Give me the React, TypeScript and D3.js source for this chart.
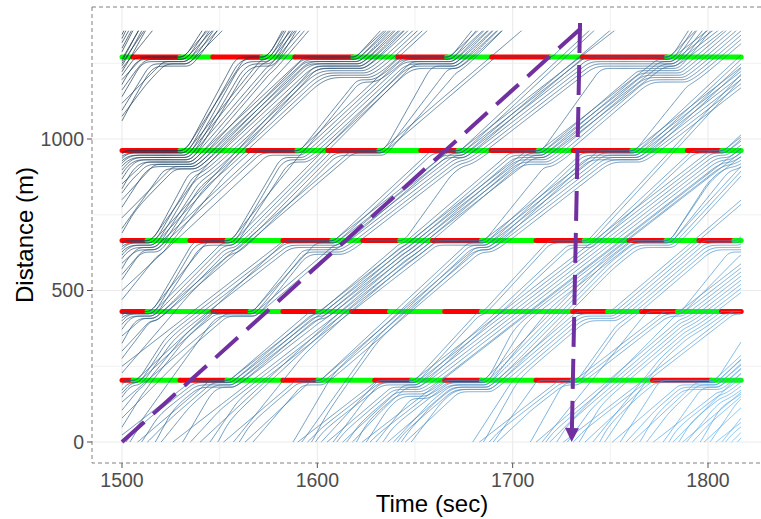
import React, { useMemo } from "react";
import * as d3 from "d3";

// Time window and corridor extent
const T_START = 1500;
const T_END = 1817;
const ROAD_END = 1357;

// Stop-line positions (m) of the five signals along the corridor
const stopLines = [204, 431, 665, 962, 1271];

// Red intervals (sec) for each signal; green fills the rest of the window
const redAt204 = [[1500, 1505.6], [1529.7, 1553.7], [1582.4, 1600.3], [1629.4, 1648.3], [1665.2, 1684], [1712, 1730.7], [1771.6, 1801.8]];
const redAt431 = [[1500, 1512.8], [1546.5, 1565.5], [1582.4, 1600.3], [1617.6, 1637], [1665.2, 1684], [1730.7, 1748.6], [1766, 1784.4], [1806.9, 1817]];
const redAt665 = [[1500, 1512.8], [1534.8, 1553.7], [1582.4, 1607.4], [1623.3, 1642.2], [1659, 1684], [1712, 1736.6], [1759.6, 1778.5], [1795.4, 1813.3]];
const redAt962 = [[1500, 1529.7], [1564.5, 1589.5], [1605.4, 1631.5], [1653, 1672], [1689, 1713], [1731, 1761], [1789.5, 1807]];
const redAt1271 = [[1505.6, 1529.7], [1546.5, 1571.6], [1588.5, 1618.2], [1641.2, 1666.2], [1689.3, 1719], [1735.7, 1778.8]];
const redPhases = [redAt204, redAt431, redAt665, redAt962, redAt1271];

// Vehicles already on the corridor at the start of the window (m) and their desired speeds (m/s)
const initialPositions = [
  1345, 1332, 1318, 1300, 1288,
  1264, 1257, 1250, 1242, 1233, 1222, 1210, 1196, 1180, 1162, 1140, 1118, 1095, 1075, 1060,
  956, 950, 943, 936, 928, 920, 910, 898, 884, 868, 852, 836, 822,
  800, 775, 740, 705, 690,
  659, 652, 645, 636, 627, 617, 605, 590, 572, 553, 536,
  500, 470,
  425, 418, 410, 400, 388, 372, 350, 326, 300, 276,
  250, 228,
  198, 190, 171, 161, 148, 132, 105, 79, 49, 23,
];
const initialSpeeds = [
  12.5, 13, 11.5, 12, 12.5,
  11, 12, 9.5, 12.5, 8, 11.5, 10, 7, 12, 9, 11, 6.5, 10.5, 8.5, 12,
  12, 10, 11.5, 8, 12.5, 9, 11, 7.5, 12, 10, 6, 11.5, 9,
  7, 10, 6.5, 9, 11,
  12, 9, 11, 7, 12.5, 8.5, 10, 6, 11.5, 7.5, 9.5,
  6, 8,
  11, 8, 12, 6.5, 10, 9, 5.5, 11.5, 7, 8.5,
  5, 7.5,
  10, 6, 11, 7, 9, 5.5, 8, 6.5, 10.5, 5,
];

// Vehicles entering at the upstream end (sec) and their desired speeds (m/s)
const entryTimes = [
  1502, 1504, 1507.7, 1510, 1513, 1517, 1520, 1526, 1531, 1535,
  1540, 1545, 1549, 1552, 1557, 1560, 1563, 1567, 1587.5, 1590,
  1592, 1595, 1597, 1599, 1602, 1605, 1608, 1610, 1613, 1615,
  1618, 1620, 1623, 1625, 1627, 1630, 1633.5, 1636, 1638.6, 1641,
  1643, 1645, 1648, 1679.5, 1683, 1685, 1688, 1690, 1692, 1709,
  1712, 1715, 1717, 1719, 1722.5, 1725.6, 1728, 1731, 1734, 1737,
  1741, 1744.5, 1747, 1751, 1755, 1758, 1761, 1765, 1768.5, 1772,
  1777, 1780, 1782, 1785, 1787, 1789, 1792, 1795.6, 1798, 1801,
  1804, 1807, 1809, 1812, 1815,
];
const entrySpeeds = [
  9, 11, 5.5, 10, 6.5, 12, 8, 5, 11, 7,
  6, 9.5, 12, 5.5, 8, 10.5, 6, 7.5, 11, 5,
  9, 6.5, 12, 10, 7, 5.5, 8.5, 11, 6, 9,
  7, 12.5, 5, 10, 6.5, 8, 9.5, 5.5, 7, 11,
  12, 6, 8.5, 10, 5, 11.5, 7.5, 9, 6, 11.5,
  5.5, 8, 12, 6.5, 10, 5, 9, 7, 11, 6,
  8, 12.5, 9.5, 5.5, 10, 7, 6, 11, 8.5, 5,
  9, 12, 6.5, 10.5, 5.5, 8, 7, 11, 6, 9.5,
  5, 8, 10, 6.5, 7.5,
];

// Axis breaks
const xMajor = [1500, 1600, 1700, 1800];
const xMinor = [1550, 1650, 1750];
const yMajor = [0, 500, 1000];
const yMinor = [250, 750, 1250];

// Progression band and the vertical drop arrow (time, distance)
const progressionLine = [[1500, 0], [1738, 1383]];
const dropLine = [[1734.5, 1383], [1730.2, 0]];

const W = 761;
const H = 519;
const PANEL = { left: 92, right: 772, top: 7, bottom: 463 };

const x = d3.scaleLinear().domain([1500, 1800]).range([122, 708]);
const y = d3.scaleLinear().domain([0, 1000]).range([442, 139]);

const FONT = "'Liberation Sans', Arial, Helvetica, sans-serif";

function isRed(signal: number, t: number) {
  return redPhases[signal].some(([a, b]) => t >= a && t < b);
}

// Gipps-type car following in two lanes, with vehicles stopping at red signals
function simulate() {
  const dt = 0.5;
  const tau = 0.8;
  const acc = 1.8;
  const dec = 3;
  const jam = 7.5;
  const maxBrake = 5;
  const steps = Math.round((T_END - T_START) / dt);
  type Veh = { start: number; pos: number; speed: number; lane: number; leader: number };
  const vehicles: Veh[] = [];
  initialPositions.forEach((p, i) => vehicles.push({ start: T_START, pos: p, speed: initialSpeeds[i], lane: 0, leader: -1 }));
  entryTimes.forEach((t, i) => vehicles.push({ start: t, pos: 0, speed: entrySpeeds[i], lane: 0, leader: -1 }));
  const last = [-1, -1];
  vehicles.forEach((v, i) => {
    v.lane = i % 2;
    v.leader = last[v.lane];
    last[v.lane] = i;
  });
  const X = vehicles.map(() => new Array(steps + 1).fill(NaN));
  const V = vehicles.map(() => new Array(steps + 1).fill(0));

  const safeSpeed = (gap: number, v: number, vLead: number) => {
    const inside = dec * dec * tau * tau + dec * (2 * gap - v * tau + (vLead * vLead) / dec);
    return inside <= 0 ? 0 : -dec * tau + Math.sqrt(inside);
  };

  // vehicles on the road start at a speed they can hold behind their leader or the next red
  vehicles.forEach((veh, i) => {
    if (veh.start > T_START) return;
    X[i][0] = veh.pos;
    let v0 = veh.speed;
    if (veh.leader >= 0) v0 = Math.min(v0, safeSpeed(X[veh.leader][0] - jam - veh.pos, 0, V[veh.leader][0]));
    const s = stopLines.findIndex((d) => veh.pos < d);
    if (s >= 0 && isRed(s, T_START)) v0 = Math.min(v0, safeSpeed(stopLines[s] - 0.5 - veh.pos, 0, 0));
    V[i][0] = Math.max(0, v0);
  });

  for (let k = 0; k < steps; k++) {
    const t1 = T_START + (k + 1) * dt;
    vehicles.forEach((veh, i) => {
      const L = veh.leader;
      const xl = L >= 0 ? X[L][k] : NaN;
      const vl = L >= 0 ? V[L][k] : 0;
      const x0 = X[i][k];
      if (isNaN(x0)) {
        if (t1 < veh.start) return;
        if (L >= 0 && (isNaN(xl) || xl - jam < 6)) return;
        const vIn = L >= 0 ? safeSpeed(xl - jam, veh.speed, vl) : veh.speed;
        X[i][k + 1] = 0;
        V[i][k + 1] = Math.max(0, Math.min(veh.speed * 0.8, vIn));
        return;
      }
      const v0 = V[i][k];
      let vn = Math.min(veh.speed, v0 + acc * dt);
      let cap = Infinity;
      if (L >= 0 && !isNaN(xl)) {
        vn = Math.min(vn, safeSpeed(xl - jam - x0, v0, vl));
        cap = xl - 0.6 * jam;
      }
      const s = stopLines.findIndex((d) => x0 < d);
      if (s >= 0 && isRed(s, t1)) {
        const gap = stopLines[s] - 0.5 - x0;
        const need = (v0 * v0) / (2 * Math.max(gap, 0.01));
        if (gap <= 0 || need <= maxBrake) {
          vn = Math.min(vn, safeSpeed(Math.max(gap, 0), v0, 0));
          cap = Math.min(cap, stopLines[s] - 0.5);
        }
      }
      vn = Math.max(0, vn);
      let xn = x0 + ((v0 + vn) / 2) * dt;
      xn = Math.max(x0, Math.min(xn, cap));
      X[i][k + 1] = xn;
      V[i][k + 1] = vn;
    });
  }
  return X.map((h) => {
    const pts: [number, number][] = [];
    h.forEach((d, k) => {
      if (!isNaN(d)) pts.push([T_START + k * dt, d]);
    });
    return pts;
  });
}

export default function App() {
  const trajectories = useMemo(() => simulate(), []);
  const n = trajectories.length;
  const colour = d3.interpolateLab("#132B43", "#56B1F7");
  const line = d3
    .line<[number, number]>()
    .x((p) => x(p[0]))
    .y((p) => y(p[1]));

  const signalSegments: { s: number; a: number; b: number; red: boolean }[] = [];
  redPhases.forEach((reds, s) => {
    let t = T_START;
    reds.forEach(([a, b]) => {
      if (a > t) signalSegments.push({ s, a: t, b: a, red: false });
      signalSegments.push({ s, a, b, red: true });
      t = b;
    });
    if (t < T_END) signalSegments.push({ s, a: t, b: T_END, red: false });
  });

  const purple = "#7030A0";
  const [p0, p1] = dropLine.map(([t, d]) => [x(t), y(d)]);
  const ang = Math.atan2(p1[1] - p0[1], p1[0] - p0[0]);
  const headLen = 14;
  const headHalf = 7;
  const base = [p1[0] - headLen * Math.cos(ang), p1[1] - headLen * Math.sin(ang)];
  const nx = -Math.sin(ang);
  const ny = Math.cos(ang);

  return (
    <svg width={W} height={H} style={{ position: "fixed", left: 0, top: 0, background: "#fff" }} fontFamily={FONT}>
      <defs>
        <clipPath id="road">
          <rect x={x(T_START) - 1} y={y(ROAD_END)} width={x(T_END) - x(T_START) + 1} height={y(-5) - y(ROAD_END)} />
        </clipPath>
      </defs>
      {/* grid */}
      {[...xMinor, ...xMajor].map((v) => (
        <line key={"gx" + v} x1={x(v)} x2={x(v)} y1={PANEL.top} y2={PANEL.bottom} stroke="#ebebeb" strokeWidth={xMajor.includes(v) ? 1.1 : 0.7} />
      ))}
      {[...yMinor, ...yMajor].map((v) => (
        <line key={"gy" + v} x1={PANEL.left} x2={W} y1={y(v)} y2={y(v)} stroke="#ebebeb" strokeWidth={yMajor.includes(v) ? 1.1 : 0.7} />
      ))}
      {/* signal timing bars */}
      {signalSegments.map((g, i) => (
        <line
          key={"sg" + i}
          x1={x(g.a)}
          x2={x(g.b)}
          y1={y(stopLines[g.s])}
          y2={y(stopLines[g.s])}
          stroke={g.red ? "#ff0000" : "#00ff00"}
          strokeWidth={5}
          strokeLinecap="round"
        />
      ))}
      {/* vehicle trajectories */}
      <g clipPath="url(#road)" fill="none">
        {trajectories.map((pts, i) => (
          <path key={"tr" + i} d={line(pts) || ""} stroke={colour(i / (n - 1))} strokeOpacity={0.7} strokeWidth={1} />
        ))}
      </g>
      {/* progression band and drop arrow */}
      <path
        d={line(progressionLine as [number, number][]) || ""}
        stroke={purple}
        strokeWidth={4}
        strokeDasharray="30 12"
        fill="none"
      />
      <line x1={p0[0]} y1={p0[1]} x2={base[0]} y2={base[1]} stroke={purple} strokeWidth={4} strokeDasharray="30 12" />
      <polygon
        points={`${p1[0]},${p1[1]} ${base[0] + nx * headHalf},${base[1] + ny * headHalf} ${base[0] - nx * headHalf},${base[1] - ny * headHalf}`}
        fill={purple}
      />
      {/* panel border */}
      <rect
        x={PANEL.left}
        y={PANEL.top}
        width={PANEL.right - PANEL.left}
        height={PANEL.bottom - PANEL.top}
        fill="none"
        stroke="#808080"
        strokeWidth={1}
        strokeDasharray="4 3"
      />
      {/* axes */}
      {yMajor.map((v) => (
        <g key={"yt" + v}>
          <line x1={PANEL.left - 5} x2={PANEL.left} y1={y(v)} y2={y(v)} stroke="#555" strokeWidth={1} />
          <text x={PANEL.left - 8} y={y(v)} dy="0.35em" textAnchor="end" fontSize={19.5} fill="#4d4d4d">
            {v}
          </text>
        </g>
      ))}
      {xMajor.map((v) => (
        <g key={"xt" + v}>
          <line x1={x(v)} x2={x(v)} y1={PANEL.bottom} y2={PANEL.bottom + 5} stroke="#555" strokeWidth={1} />
          <text x={x(v)} y={487} textAnchor="middle" fontSize={19.5} fill="#4d4d4d">
            {v}
          </text>
        </g>
      ))}
      <text x={(PANEL.left + PANEL.right) / 2} y={512} textAnchor="middle" fontSize={24} fill="#000">
        Time (sec)
      </text>
      <text
        transform={`translate(33,${(PANEL.top + PANEL.bottom) / 2}) rotate(-90)`}
        textAnchor="middle"
        fontSize={24}
        fill="#000"
      >
        Distance (m)
      </text>
    </svg>
  );
}
